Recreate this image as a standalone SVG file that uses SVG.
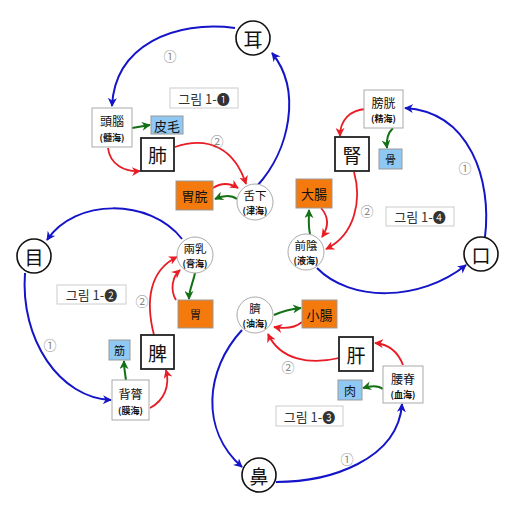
<svg xmlns="http://www.w3.org/2000/svg" width="512" height="512" viewBox="0 0 512 512">
<defs>
<style>
text{font-family:"Noto Sans CJK KR","Noto Sans CJK SC",sans-serif;text-anchor:middle;dominant-baseline:central;fill:#111}
.big{font-size:19px}
.mid{font-size:13px}
.bm{font-size:12px}
.cm{font-size:11.5px}
.sm{font-size:9px;font-weight:bold}
.num{font-size:13px;fill:#888}
.fig{font-size:13px;fill:#333}
.sense{fill:#fff;stroke:#111;stroke-width:1.6}
.sea{fill:#fff;stroke:#aaa;stroke-width:1}
.seabox{fill:#fff;stroke:#aaa;stroke-width:1}
.organ{fill:#fff;stroke:#222;stroke-width:1.8}
.tissue{fill:#8fc8f3;stroke:#999;stroke-width:1}
.bowel{fill:#f47a0e;stroke:#999;stroke-width:1}
.figbox{fill:#fff;stroke:#ccc;stroke-width:1}
.b{fill:none;stroke:#1414c8;stroke-width:2;marker-end:url(#ab)}
.r{fill:none;stroke:#e81c24;stroke-width:1.8;marker-end:url(#ar)}
.g{fill:none;stroke:#137015;stroke-width:2;marker-end:url(#ag)}
</style>
<marker id="ab" viewBox="0 0 10 10" refX="9" refY="5" markerWidth="9" markerHeight="9" markerUnits="userSpaceOnUse" orient="auto"><path d="M0,0 L10,5 L0,10 L3,5 z" fill="#1414c8"/></marker>
<marker id="ar" viewBox="0 0 10 10" refX="9" refY="5" markerWidth="9" markerHeight="9" markerUnits="userSpaceOnUse" orient="auto"><path d="M0,0 L10,5 L0,10 L3,5 z" fill="#e81c24"/></marker>
<marker id="ag" viewBox="0 0 10 10" refX="9" refY="5" markerWidth="9" markerHeight="9" markerUnits="userSpaceOnUse" orient="auto"><path d="M0,0 L10,5 L0,10 L3,5 z" fill="#137015"/></marker>
</defs>
<rect width="512" height="512" fill="#fff"/>

<g id="connectors">
<!-- Q1 -->
<path class="b" d="M235,28 C175,20 115,45 112,106"/>
<path class="b" d="M257,186 C290,150 302,90 272,53"/>
<path class="r" d="M108,148 C110,165 125,172 140,171"/>
<path class="r" d="M175,147 C210,135 235,150 246,184"/>
<path class="r" d="M213,188 C222,182 230,183 238,188"/>
<path class="g" d="M237,199 C230,194 222,196 215,199"/>
<path class="g" d="M132,128 C138,127 144,126 150,125"/>
<!-- Q4 -->
<path class="b" d="M485,237 C492,180 470,112 405,108"/>
<path class="b" d="M317,268 C350,302 420,302 466,265"/>
<path class="r" d="M366,109 C350,110 340,120 340,136"/>
<path class="g" d="M393,128 C388,133 386,140 387,148"/>
<path class="r" d="M354,172 C362,200 355,235 326,249"/>
<path class="r" d="M321,208 C330,218 328,228 322,237"/>
<path class="g" d="M310,234 C308,225 309,218 309,210"/>
<!-- Q2 -->
<path class="b" d="M182,239 C150,198 75,198 47,240"/>
<path class="b" d="M25,273 C20,340 60,398 111,400"/>
<path class="r" d="M150,408 C165,400 170,385 166,370"/>
<path class="r" d="M154,335 C145,300 150,270 177,257"/>
<path class="r" d="M176,300 C170,290 172,277 180,270"/>
<path class="g" d="M195,273 C193,283 189,290 189,299"/>
<path class="g" d="M126,380 C125,373 124,368 124,361"/>
<!-- Q3 -->
<path class="b" d="M242,330 C205,370 200,430 242,467"/>
<path class="b" d="M276,482 C330,482 398,460 402,404"/>
<path class="r" d="M403,365 C398,352 388,344 375,343"/>
<path class="r" d="M339,358 C310,365 280,360 268,334"/>
<path class="r" d="M302,322 C295,328 285,329 274,327"/>
<path class="g" d="M274,315 C283,311 292,309 301,308"/>
<path class="g" d="M383,389 C378,385 370,386 363,388"/>
</g>

<g id="labels">
<text class="num" x="170" y="55">①</text>
<text class="num" x="217" y="140">②</text>
<text class="num" x="465" y="167">①</text>
<text class="num" x="367" y="210">②</text>
<text class="num" x="142" y="300">②</text>
<text class="num" x="50" y="344">①</text>
<text class="num" x="288" y="366">②</text>
<text class="num" x="347" y="458">①</text>
</g>

<!-- Q1 -->
<g id="fig1"><rect class="figbox" x="170" y="88" width="68" height="20"/><text class="fig" x="204" y="98">그림 1-❶</text></g>
<g id="ear"><circle class="sense" cx="253" cy="38" r="17"/><text class="big" x="253" y="38">耳</text></g>
<g id="head"><rect class="seabox" x="92" y="108" width="40" height="39"/><text class="bm" x="112" y="120.5">頭腦</text><text class="sm" x="112" y="137">(髓海)</text></g>
<g id="skin"><rect class="tissue" x="151" y="116" width="32" height="18"/><text class="mid" x="167" y="125">皮毛</text></g>
<g id="lung"><rect class="organ" x="141" y="138" width="33" height="33"/><text class="big" x="157.5" y="154.5">肺</text></g>
<g id="stomachduct"><rect class="bowel" x="176" y="181" width="37" height="29"/><text class="mid" x="194.5" y="195.5">胃脘</text></g>
<g id="tongue"><circle class="sea" cx="255" cy="202" r="18"/><text class="cm" x="255" y="195">舌下</text><text class="sm" x="255" y="210.5">(津海)</text></g>

<!-- Q4 -->
<g id="fig4"><rect class="figbox" x="386" y="207" width="68" height="19"/><text class="fig" x="420" y="216.5">그림 1-❹</text></g>
<g id="mouth"><circle class="sense" cx="481" cy="254" r="17"/><text class="big" x="481" y="254">口</text></g>
<g id="bladder"><rect class="seabox" x="364" y="90" width="39" height="38"/><text class="bm" x="383.5" y="102.5">膀胱</text><text class="sm" x="383.5" y="118.5">(精海)</text></g>
<g id="kidney"><rect class="organ" x="335" y="137" width="34" height="34"/><text class="big" x="352" y="154">腎</text></g>
<g id="bone"><rect class="tissue" x="379" y="149" width="23" height="20"/><text class="mid" x="390.5" y="159" style="font-size:11px">骨</text></g>
<g id="colon"><rect class="bowel" x="296" y="179" width="36" height="29"/><text class="mid" x="314" y="193.5">大腸</text></g>
<g id="genital"><circle class="sea" cx="306" cy="252" r="18"/><text class="cm" x="306" y="245">前陰</text><text class="sm" x="306" y="260.5">(液海)</text></g>

<!-- Q2 -->
<g id="fig2"><rect class="figbox" x="57" y="285" width="69" height="19"/><text class="fig" x="91.5" y="294.5">그림 1-❷</text></g>
<g id="eye"><circle class="sense" cx="34" cy="256" r="17"/><text class="big" x="34" y="256">目</text></g>
<g id="breast"><circle class="sea" cx="195" cy="255" r="18"/><text class="cm" x="195" y="248">兩乳</text><text class="sm" x="195" y="263.5">(膏海)</text></g>
<g id="stomach"><rect class="bowel" x="178" y="300" width="35" height="28"/><text class="mid" x="195.5" y="314" style="font-size:11px">胃</text></g>
<g id="sinew"><rect class="tissue" x="109" y="340" width="21" height="20"/><text class="mid" x="119.5" y="350" style="font-size:11px">筋</text></g>
<g id="spleen"><rect class="organ" x="141" y="335" width="33" height="34"/><text class="big" x="157.5" y="352">脾</text></g>
<g id="back"><rect class="seabox" x="112" y="380" width="37" height="40"/><text class="bm" x="130.5" y="393.5">背膂</text><text class="sm" x="130.5" y="410">(膜海)</text></g>

<!-- Q3 -->
<g id="fig3"><rect class="figbox" x="276" y="406" width="67" height="20"/><text class="fig" x="309.5" y="416">그림 1-❸</text></g>
<g id="nose"><circle class="sense" cx="259" cy="475" r="17"/><text class="big" x="259" y="475">鼻</text></g>
<g id="navel"><circle class="sea" cx="255" cy="315" r="18"/><text class="cm" x="255" y="308">臍</text><text class="sm" x="255" y="323.5">(油海)</text></g>
<g id="smallint"><rect class="bowel" x="302" y="300" width="35" height="28"/><text class="mid" x="319.5" y="314">小腸</text></g>
<g id="liver"><rect class="organ" x="339" y="337" width="34" height="34"/><text class="big" x="356" y="354">肝</text></g>
<g id="flesh"><rect class="tissue" x="338" y="380" width="24" height="20"/><text class="mid" x="350" y="390" style="font-size:12px">肉</text></g>
<g id="waist"><rect class="seabox" x="383" y="366" width="40" height="37"/><text class="bm" x="403" y="378.5">腰脊</text><text class="sm" x="403" y="394.5">(血海)</text></g>
</svg>
